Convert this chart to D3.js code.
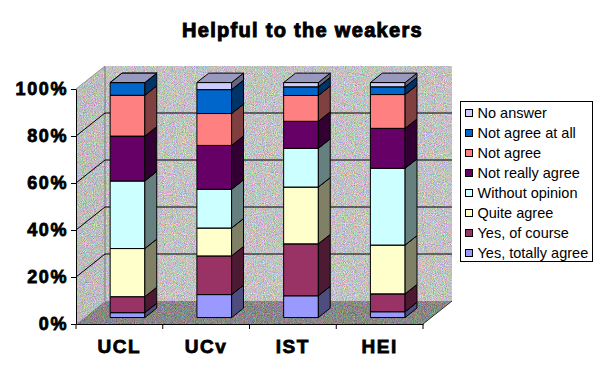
<!DOCTYPE html>
<html>
<head>
<meta charset="utf-8">
<script src="https://cdn.jsdelivr.net/npm/d3@7"></script>
<style>
  body { margin: 0; background: #fff; }
  svg { display: block; font-family: "Liberation Sans", Arial, sans-serif; }
</style>
</head>
<body>
<svg id="chart" width="605" height="376"></svg>
<script>
// categories and series, bottom of the stack first
const categories = ['UCL', 'UCv', 'IST', 'HEI']
const seriesNames = ['Yes, totally agree', 'Yes, of course', 'Quite agree', 'Without opinion',
  'Not really agree', 'Not agree', 'Not agree at all', 'No answer']
const seriesColors = ['#9999FF', '#993366', '#FFFFCC', '#CCFFFF', '#660066', '#FF8080', '#0066CC', '#CCCCFF']

const yesTotally = [2.1, 9.8, 9.3, 2.5]
const yesOfCourse = [6.8, 16.5, 22.1, 7.6]
const quiteAgree = [20.5, 11.9, 24.2, 20.8]
const withoutOpinion = [28.8, 16.5, 16.5, 32.7]
const notReally = [19.1, 18.7, 11.5, 17.0]
const notAgree = [17.4, 13.6, 11.0, 14.4]
const notAtAll = [5.4, 10.2, 3.7, 3.3]
const noAnswer = [0, 3.0, 1.8, 1.8]

const yTicks = [0, 0.2, 0.4, 0.6, 0.8, 1]

const seriesValues = [yesTotally, yesOfCourse, quiteAgree, withoutOpinion, notReally, notAgree, notAtAll, noAnswer]
const rows = categories.map((c, i) => {
  let r = {cat: c}
  seriesNames.forEach((s, k) => { r[s] = seriesValues[k][i] })
  return r
})

const svg = d3.select('#chart')

// plot geometry (front plane + depth offset)
const plotLeft = 76, plotRight = 423, plotBottom = 324, plotTop = 89
const DX = 29, DY = 23
const T1 = 0.28, T2 = 0.69

const x = d3.scaleBand().domain(categories).range([plotLeft, plotRight])
  .paddingInner(0.6).paddingOuter(0.3)
const y = d3.scaleLinear().domain([0, 1]).range([plotBottom, plotTop])

const proj = (px, py, t) => [px + t * DX, py - t * DY]
const poly = (pts) => pts.map((p) => p.join(',')).join(' ')

// dithered look for walls
const defs = svg.append('defs')
function noiseFilter (id, base) {
  let f = defs.append('filter').attr('id', id)
    .attr('color-interpolation-filters', 'sRGB')
    .attr('x', 0).attr('y', 0).attr('width', '100%').attr('height', '100%')
  f.append('feTurbulence').attr('type', 'fractalNoise')
    .attr('baseFrequency', 1.1).attr('numOctaves', 1).attr('seed', 7).attr('result', 't')
  let k = 0.8
  let o = base - 0.5 * k
  f.append('feColorMatrix').attr('in', 't').attr('type', 'matrix').attr('result', 'c')
    .attr('values', `${k} 0 0 0 ${o}  0 ${k} 0 0 ${o}  0 0 ${k} 0 ${o}  0 0 0 0 1`)
  f.append('feComposite').attr('in', 'c').attr('in2', 'SourceGraphic').attr('operator', 'in')
}
noiseFilter('wallNoise', 0.76)
noiseFilter('sideNoise', 0.74)
noiseFilter('floorNoise', 0.53)

// walls and floor
svg.append('polygon')
  .attr('points', poly([[plotLeft, plotBottom], [plotLeft, plotTop], proj(plotLeft, plotTop, 1), proj(plotLeft, plotBottom, 1)]))
  .attr('fill', '#bbb').attr('filter', 'url(#sideNoise)')
svg.append('polygon')
  .attr('points', poly([proj(plotLeft, plotTop, 1), proj(plotRight, plotTop, 1), proj(plotRight, plotBottom, 1), proj(plotLeft, plotBottom, 1)]))
  .attr('fill', '#c0c0c0').attr('filter', 'url(#wallNoise)')
svg.append('polygon')
  .attr('points', poly([[plotLeft, plotBottom], [plotRight, plotBottom], proj(plotRight, plotBottom, 1), proj(plotLeft, plotBottom, 1)]))
  .attr('fill', '#888').attr('filter', 'url(#floorNoise)')

// edges of the walls
const edge = (a, b, col) => svg.append('line')
  .attr('x1', a[0]).attr('y1', a[1]).attr('x2', b[0]).attr('y2', b[1])
  .attr('stroke', col).attr('stroke-width', 1)
edge(proj(plotLeft, plotTop, 1), proj(plotLeft, plotBottom, 1), '#777')
edge([plotLeft, plotTop], proj(plotLeft, plotTop, 1), '#999')
edge([plotRight, plotBottom], proj(plotRight, plotBottom, 1), '#333')

// gridlines
const grid = svg.append('g').attr('stroke', '#000').attr('stroke-width', 1)
yTicks.filter((v) => v > 0 && v < 1).forEach((v) => {
  let a = [plotLeft, y(v)]
  let b = proj(plotLeft, y(v), 1)
  let c = proj(plotRight, y(v), 1)
  grid.append('line').attr('x1', a[0]).attr('y1', a[1]).attr('x2', b[0]).attr('y2', b[1])
  grid.append('line').attr('x1', b[0]).attr('y1', b[1]).attr('x2', c[0]).attr('y2', c[1])
})

// stacked 3d bars
const stack = d3.stack().keys(seriesNames).offset(d3.stackOffsetExpand)
const layers = stack(rows)

const shade = (c, k) => {
  let r = d3.rgb(c)
  return d3.rgb(r.r * k, r.g * k, r.b * k).formatHex()
}

const bars = svg.append('g').attr('stroke', '#000').attr('stroke-width', 1)
  .attr('stroke-linejoin', 'round')
categories.forEach((cat, i) => {
  let xa = x(cat)
  let xb = xa + x.bandwidth()
  layers.forEach((layer, k) => {
    let d = layer[i]
    let y0 = y(d[0])
    let y1 = y(d[1])
    let col = seriesColors[k]
    let fBL = proj(xa, y0, T1), fBR = proj(xb, y0, T1)
    let fTL = proj(xa, y1, T1), fTR = proj(xb, y1, T1)
    let bBR = proj(xb, y0, T2), bTR = proj(xb, y1, T2), bTL = proj(xa, y1, T2)
    bars.append('polygon').attr('points', poly([fBL, fBR, fTR, fTL])).attr('fill', col)
    bars.append('polygon').attr('points', poly([fBR, bBR, bTR, fTR])).attr('fill', shade(col, 0.5))
    bars.append('polygon').attr('points', poly([fTL, fTR, bTR, bTL])).attr('fill', shade(col, 0.75))
  })
})

// axes
const yAxis = svg.append('g')
  .attr('transform', `translate(${plotLeft},0)`)
  .call(d3.axisLeft(y).tickValues(yTicks).tickFormat(d3.format('.0%'))
    .tickSize(5).tickPadding(3).tickSizeOuter(0))
yAxis.select('.domain').attr('stroke', '#000')
yAxis.selectAll('.tick line').attr('stroke', '#000')
yAxis.selectAll('.tick text')
  .attr('fill', '#000').attr('font-size', 18).attr('font-weight', 'bold')
  .attr('letter-spacing', 1.6).attr('stroke', '#000').attr('stroke-width', 0.8)
  .attr('font-family', '"Liberation Sans", Arial, sans-serif')

const xAxis = svg.append('g')
  .attr('transform', `translate(0,${plotBottom})`)
  .call(d3.axisBottom(x).tickSize(0).tickSizeOuter(0))
xAxis.select('.domain').attr('stroke', '#000')
xAxis.selectAll('.tick text')
  .attr('y', 29).attr('dy', null)
  .attr('fill', '#000').attr('font-size', 19).attr('font-weight', 'bold')
  .attr('letter-spacing', 1.6).attr('stroke', '#000').attr('stroke-width', 0.8)
  .attr('font-family', '"Liberation Sans", Arial, sans-serif')
// category boundary ticks
d3.range(categories.length + 1).forEach((i) => {
  let bx = plotLeft + i * x.step()
  xAxis.append('line').attr('x1', bx).attr('x2', bx).attr('y1', 0).attr('y2', 5)
    .attr('stroke', '#000')
})

// title
svg.append('text')
  .attr('x', 302.5).attr('y', 37)
  .attr('text-anchor', 'middle')
  .attr('font-size', 20).attr('font-weight', 'bold')
  .attr('letter-spacing', 1.3).attr('stroke', '#000').attr('stroke-width', 1)
  .text('Helpful to the weakers')

// legend, top of the stack first
const legend = svg.append('g')
legend.append('rect')
  .attr('x', 460.5).attr('y', 101.5).attr('width', 132).attr('height', 160)
  .attr('fill', '#fff').attr('stroke', '#000')
const legendOrder = d3.range(seriesNames.length).reverse()
legendOrder.forEach((k, j) => {
  let cy = 113.3 + j * 19.9
  legend.append('rect')
    .attr('x', 465.5).attr('y', Math.round(cy - 4) + 0.5).attr('width', 7).attr('height', 7)
    .attr('fill', seriesColors[k]).attr('stroke', '#000')
  legend.append('text')
    .attr('x', 477.5).attr('y', cy + 5)
    .attr('font-size', 14.5)
    .text(seriesNames[k])
})
</script>
</body>
</html>
